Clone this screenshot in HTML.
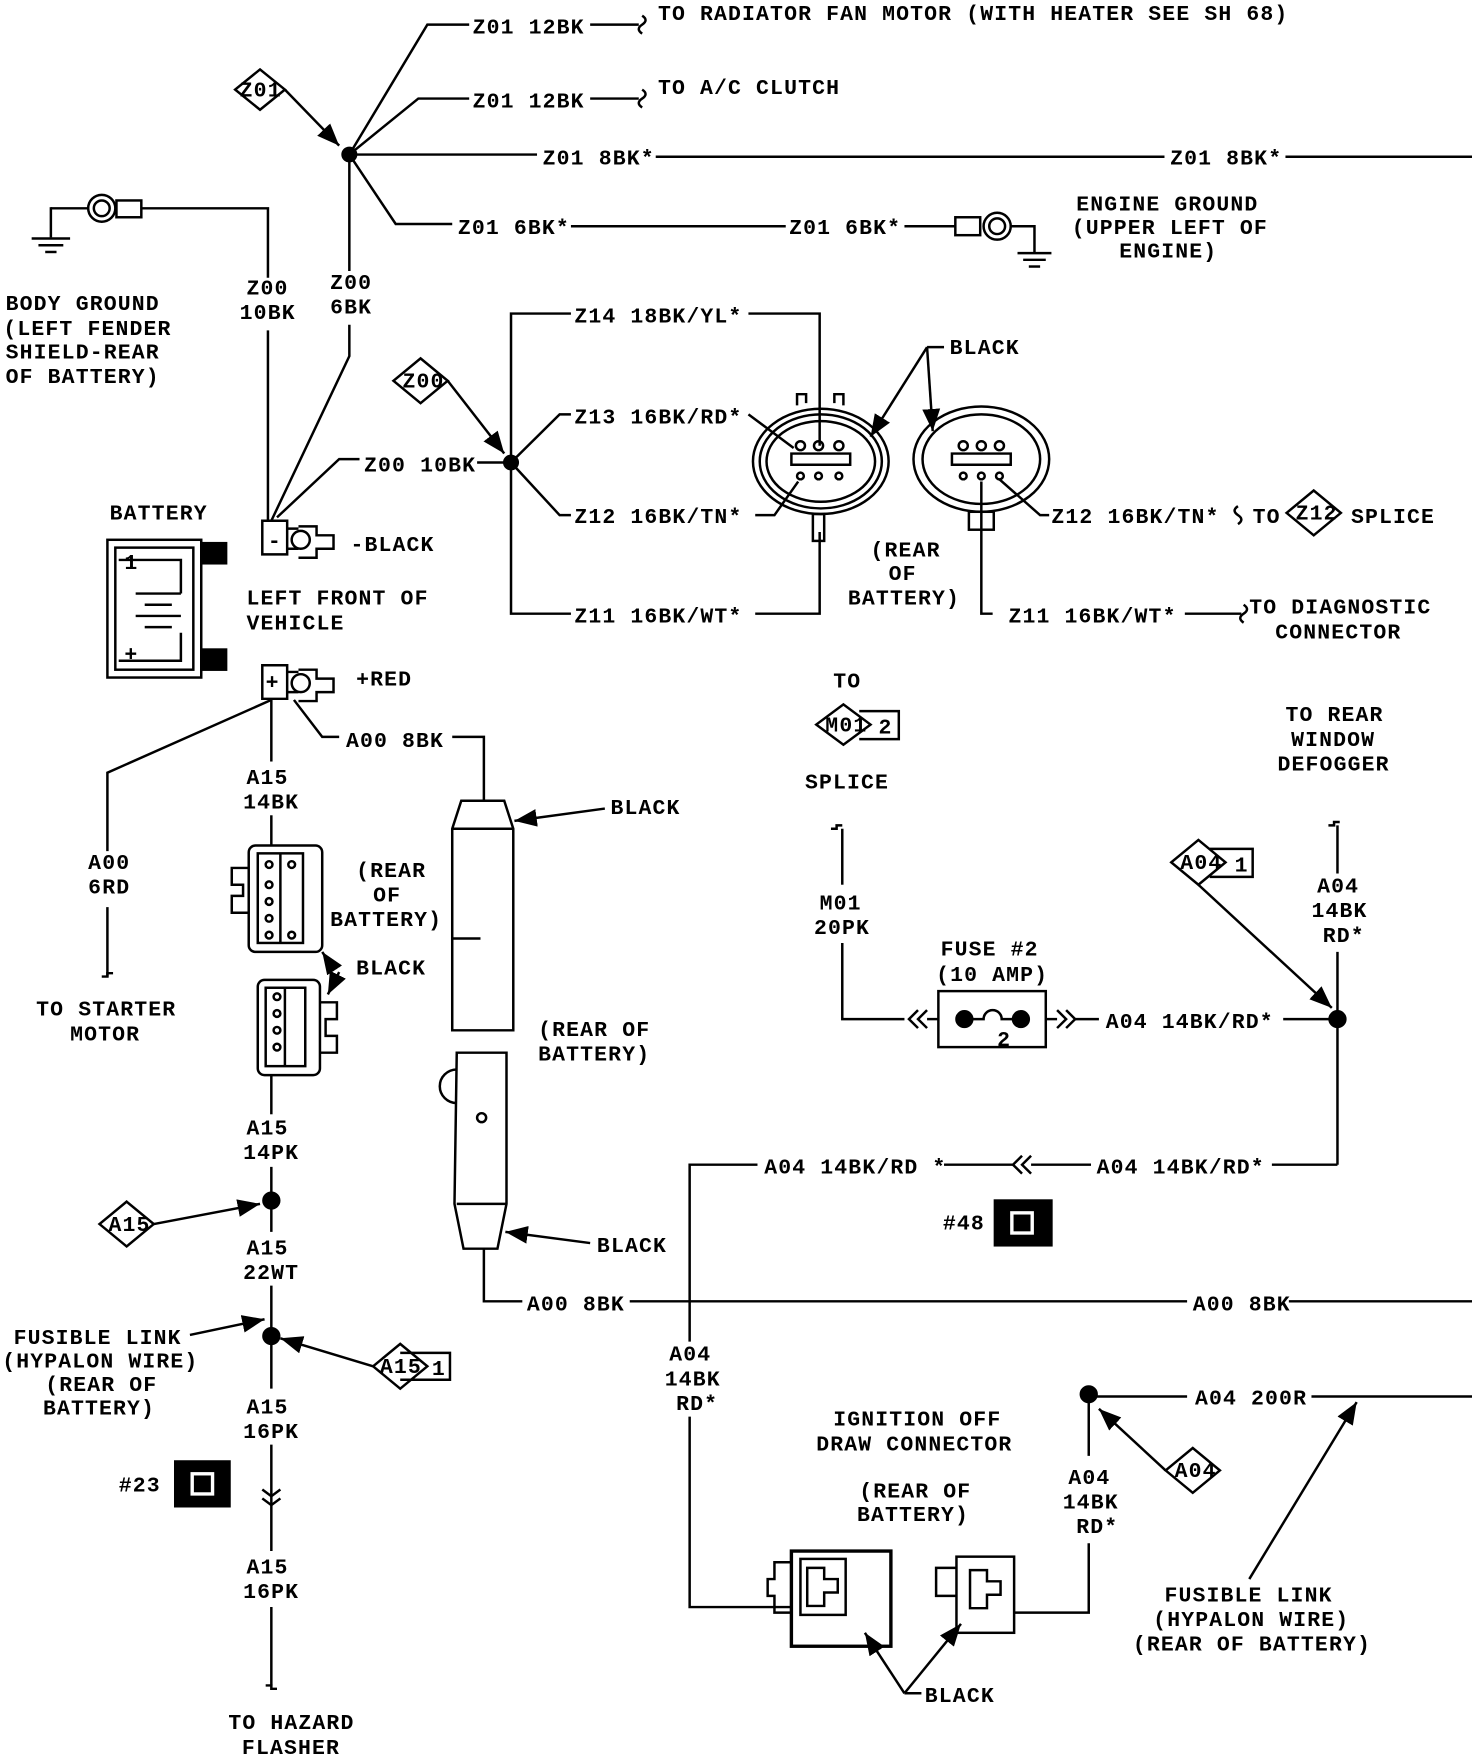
<!DOCTYPE html>
<html><head><meta charset="utf-8"><style>
html,body{margin:0;padding:0;background:#fff}
svg{display:block}
text{font-family:"Liberation Mono",monospace;font-size:19px;fill:#000;letter-spacing:1px;font-weight:bold}
</style></head><body>
<svg width="1472" height="1756" viewBox="0 0 1302 1568" preserveAspectRatio="none" xmlns="http://www.w3.org/2000/svg">
<defs><marker id="a" viewBox="0 0 10 10" refX="10" refY="5" markerWidth="9" markerHeight="9" orient="auto-start-reverse"><path d="M0,1 L10,5 L0,9 z" fill="#000"/></marker></defs>
<g stroke="#000" stroke-width="2.2" fill="none">
<circle cx="309" cy="138" r="6" fill="#000"/>
<polyline points="309,138 378,22 415,22"/><polyline points="522,22 565,22"/><path d="M568,14 q6,4 0,8 q-6,4 0,8"/>
<polyline points="309,138 370,88 415,88"/><polyline points="522,88 565,88"/><path d="M568,80 q6,4 0,8 q-6,4 0,8"/>
<line x1="309" y1="138" x2="475" y2="138"/><line x1="580" y1="140" x2="1030" y2="140"/><line x1="1137" y1="140" x2="1302" y2="140"/>
<polyline points="309,138 350,200 400,200"/><line x1="505" y1="202" x2="695" y2="202"/><line x1="800" y1="202" x2="845" y2="202"/>
<rect x="845" y="194" width="22" height="16"/><circle cx="882" cy="202" r="12"/><circle cx="882" cy="202" r="7"/>
<polyline points="894,202 915,202 915,225"/><line x1="900" y1="226" x2="930" y2="226"/><line x1="905" y1="232" x2="925" y2="232"/><line x1="910" y1="238" x2="920" y2="238"/>
<line x1="309" y1="138" x2="309" y2="242"/><polyline points="309,290 309,318 240,465"/>
<path d="M208,80 l22,-18 l22,18 l-22,18 z"/><line x1="252" y1="80" x2="300" y2="130" marker-end="url(#a)"/>
<polyline points="45,185 45,212"/><line x1="28" y1="213" x2="62" y2="213"/><line x1="34" y1="219" x2="56" y2="219"/><line x1="40" y1="225" x2="50" y2="225"/>
<line x1="45" y1="186" x2="78" y2="186"/><circle cx="90" cy="186" r="12"/><circle cx="90" cy="186" r="7"/><rect x="103" y="179" width="22" height="15"/>
<polyline points="125,186 237,186 237,248"/><line x1="237" y1="295" x2="237" y2="465"/>
<polyline points="245,462 300,410 318,410"/>
<path d="M348,340 l24,-20 l24,20 l-24,20 z"/><line x1="396" y1="340" x2="446" y2="405" marker-end="url(#a)"/>
<circle cx="452" cy="413" r="6" fill="#000"/><line x1="422" y1="413" x2="452" y2="413"/>
<polyline points="505,280 452,280 452,548 505,548"/>
<polyline points="452,413 495,370 505,370"/><polyline points="452,413 495,460 505,460"/>
<polyline points="662,280 725,280 725,398"/><line x1="662" y1="370" x2="702" y2="400"/><polyline points="668,460 685,460 706,430"/>
<polyline points="668,548 725,548 725,475"/>
<ellipse cx="726" cy="412" rx="60" ry="47"/><ellipse cx="726" cy="412" rx="54" ry="42"/><ellipse cx="726" cy="412" rx="48" ry="36"/>
<path d="M705,362 v-10 h8 v8 M738,360 v-8 h8 v10"/><rect x="719" y="459" width="10" height="24"/>
<path d="M700,405 h52 v10 h-52 z"/><circle cx="708" cy="398" r="4"/><circle cx="724" cy="398" r="4"/><circle cx="742" cy="398" r="4"/><circle cx="708" cy="425" r="3"/><circle cx="724" cy="425" r="3"/><circle cx="742" cy="425" r="3"/>
<ellipse cx="868" cy="410" rx="60" ry="47"/><ellipse cx="868" cy="410" rx="52" ry="40"/>
<path d="M842,405 h52 v10 h-52 z"/><circle cx="852" cy="398" r="4"/><circle cx="868" cy="398" r="4"/><circle cx="884" cy="398" r="4"/><circle cx="852" cy="425" r="3"/><circle cx="868" cy="425" r="3"/><circle cx="884" cy="425" r="3"/>
<rect x="857" y="457" width="22" height="16"/>
<line x1="820" y1="310" x2="770" y2="390" marker-end="url(#a)"/><line x1="820" y1="310" x2="825" y2="385" marker-end="url(#a)"/><line x1="820" y1="310" x2="835" y2="310"/>
<polyline points="884,428 920,460 928,460"/><path d="M1095,452 q-6,4 0,8 q6,4 0,8"/>
<path d="M1138,458 l24,-20 l24,20 l-24,20 z"/>
<polyline points="868,430 868,548 878,548"/><line x1="1048" y1="548" x2="1098" y2="548"/><path d="M1100,540 q6,4 0,8 q-6,4 0,8"/>
<rect x="95" y="482" width="83" height="123"/><rect x="102" y="489" width="69" height="109"/>
<rect x="178" y="485" width="22" height="18" fill="#000"/><rect x="178" y="580" width="22" height="18" fill="#000"/>
<polyline points="105,500 160,500 160,530"/><line x1="120" y1="530" x2="160" y2="530"/><line x1="128" y1="540" x2="152" y2="540"/><line x1="120" y1="550" x2="160" y2="550"/><line x1="128" y1="560" x2="152" y2="560"/><polyline points="160,565 160,590 105,590"/>
<path d="M232,465 h22 v30 h-22 z M254,472 h10 M254,490 h10 M264,470 h16 v8 h15 v12 h-15 v8 h-16"/><circle cx="266" cy="482" r="8"/>
<path d="M232,594 h22 v30 h-22 z M254,600 h10 M254,618 h10 M264,598 h16 v8 h15 v12 h-15 v8 h-16"/><circle cx="266" cy="610" r="8"/>
<polyline points="260,625 285,658 300,658"/><polyline points="400,658 428,658 428,715"/>
<path d="M408,715 h38 l8,25 v180 h-54 v-180 z"/><line x1="400" y1="740" x2="454" y2="740"/><line x1="400" y1="838" x2="425" y2="838"/>
<line x1="535" y1="722" x2="455" y2="733" marker-end="url(#a)"/>
<path d="M404,940 h44 v135 l-8,40 h-30 l-8,-40 z"/><line x1="404" y1="1075" x2="448" y2="1075"/><path d="M404,955 a10,10 0 0 0 0,30"/><circle cx="426" cy="998" r="4"/>
<line x1="522" y1="1110" x2="447" y2="1100" marker-end="url(#a)"/>
<polyline points="428,1115 428,1162 462,1162"/><line x1="557" y1="1162" x2="1050" y2="1162"/><line x1="1140" y1="1162" x2="1302" y2="1162"/>
<polyline points="240,625 95,690 95,760"/><line x1="95" y1="810" x2="95" y2="872"/><path d="M90,872 h5 v-3 h5"/>
<line x1="240" y1="625" x2="240" y2="680"/><line x1="240" y1="728" x2="240" y2="755"/>
<rect x="220" y="755" width="65" height="95" rx="6"/><rect x="228" y="762" width="40" height="80"/><line x1="248" y1="762" x2="248" y2="842"/>
<path d="M220,775 h-15 v15 h10 v10 h-10 v15 h15"/><circle cx="238" cy="772" r="3"/><circle cx="238" cy="790" r="3"/><circle cx="238" cy="805" r="3"/><circle cx="238" cy="820" r="3"/><circle cx="238" cy="835" r="3"/><circle cx="258" cy="772" r="3"/><circle cx="258" cy="835" r="3"/>
<line x1="295" y1="865" x2="285" y2="850" marker-end="url(#a)"/>
<rect x="228" y="875" width="55" height="85" rx="6"/><rect x="235" y="882" width="35" height="70"/><line x1="252" y1="882" x2="252" y2="952"/>
<path d="M283,895 h15 v15 h-10 v15 h10 v15 h-15"/><circle cx="245" cy="890" r="3"/><circle cx="245" cy="905" r="3"/><circle cx="245" cy="920" r="3"/><circle cx="245" cy="935" r="3"/>
<line x1="300" y1="868" x2="290" y2="888" marker-end="url(#a)"/>
<line x1="240" y1="960" x2="240" y2="995"/><line x1="240" y1="1042" x2="240" y2="1100"/>
<circle cx="240" cy="1072" r="7" fill="#000"/>
<path d="M88,1093 l24,-20 l24,20 l-24,20 z"/><line x1="136" y1="1093" x2="230" y2="1075" marker-end="url(#a)"/>
<line x1="240" y1="1148" x2="240" y2="1240"/><circle cx="240" cy="1193" r="7" fill="#000"/>
<line x1="168" y1="1192" x2="234" y2="1178" marker-end="url(#a)"/>
<path d="M330,1220 l24,-20 l24,20 l-24,20 z"/><polyline points="354,1208 398,1208 398,1232 354,1232"/>
<line x1="330" y1="1220" x2="248" y2="1195" marker-end="url(#a)"/>
<line x1="240" y1="1290" x2="240" y2="1385"/><path d="M232,1330 l8,6 l8,-6 M232,1338 l8,6 l8,-6"/>
<line x1="240" y1="1435" x2="240" y2="1505"/><path d="M235,1505 h5 v3 h5"/>
<rect x="155" y="1305" width="48" height="40" fill="#000"/><rect x="170" y="1316" width="18" height="18" stroke="#fff" stroke-width="3"/>
<path d="M722,647 l24,-18 l24,18 l-24,18 z"/><polyline points="760,635 795,635 795,660 760,660"/>
<path d="M735,740 h5 v-3 h5"/><line x1="745" y1="740" x2="745" y2="790"/><polyline points="745,842 745,910 800,910"/>
<path d="M812,902 l-8,8 l8,8 M820,902 l-8,8 l8,8"/><line x1="820" y1="910" x2="830" y2="910"/>
<rect x="830" y="885" width="95" height="50"/><circle cx="853" cy="910" r="7" fill="#000"/><circle cx="903" cy="910" r="7" fill="#000"/><path d="M860,910 h10 a8,8 0 0 1 16,0 h10"/>
<line x1="925" y1="910" x2="935" y2="910"/><path d="M935,902 l8,8 l-8,8 M943,902 l8,8 l-8,8"/><line x1="951" y1="910" x2="972" y2="910"/>
<line x1="1135" y1="910" x2="1183" y2="910"/><circle cx="1183" cy="910" r="7" fill="#000"/>
<path d="M1175,737 h5 v-3 h5"/><line x1="1183" y1="737" x2="1183" y2="780"/><line x1="1183" y1="850" x2="1183" y2="1040"/>
<path d="M1036,770 l24,-20 l24,20 l-24,20 z"/><polyline points="1070,758 1108,758 1108,783 1070,783"/>
<line x1="1060" y1="790" x2="1178" y2="900" marker-end="url(#a)"/>
<polyline points="1183,1040 1125,1040"/><line x1="965" y1="1040" x2="912" y2="1040"/><path d="M912,1032 l-8,8 l8,8 M904,1032 l-8,8 l8,8"/><line x1="896" y1="1040" x2="835" y2="1040"/>
<polyline points="670,1040 610,1040 610,1198"/><polyline points="610,1265 610,1435 700,1435"/>
<rect x="880" y="1072" width="50" height="40" fill="#000"/><rect x="895" y="1083" width="18" height="18" stroke="#fff" stroke-width="3"/>
<rect x="700" y="1385" width="88" height="85" stroke-width="3"/><path d="M700,1395 h-15 v15 h-6 v15 h6 v15 h15"/><rect x="708" y="1392" width="40" height="50"/><path d="M714,1400 h15 v10 h12 v12 h-12 v12 h-15 z"/>
<rect x="846" y="1390" width="51" height="68"/><path d="M846,1400 h-18 v25 h18"/><path d="M858,1402 h15 v10 h12 v12 h-12 v12 h-15 z"/>
<polyline points="897,1440 963,1440 963,1378"/><line x1="963" y1="1300" x2="963" y2="1245"/><circle cx="963" cy="1245" r="7" fill="#000"/>
<line x1="963" y1="1247" x2="1050" y2="1247"/><line x1="1160" y1="1247" x2="1302" y2="1247"/>
<path d="M1031,1313 l24,-20 l24,20 l-24,20 z"/><line x1="1031" y1="1313" x2="972" y2="1258" marker-end="url(#a)"/>
<line x1="1105" y1="1410" x2="1200" y2="1252" marker-end="url(#a)"/>
<line x1="815" y1="1512" x2="800" y2="1512"/><line x1="800" y1="1512" x2="765" y2="1458" marker-end="url(#a)"/><line x1="800" y1="1512" x2="850" y2="1450" marker-end="url(#a)"/>
</g>
<g>
<text x="418" y="30">Z01 12BK</text><text x="582" y="18">TO RADIATOR FAN MOTOR (WITH HEATER SEE SH 68)</text>
<text x="418" y="96">Z01 12BK</text><text x="582" y="84">TO A/C CLUTCH</text>
<text x="480" y="147">Z01 8BK*</text><text x="1035" y="147">Z01 8BK*</text>
<text x="405" y="209">Z01 6BK*</text><text x="698" y="209">Z01 6BK*</text>
<text x="952" y="188">ENGINE GROUND</text><text x="948" y="209">(UPPER LEFT OF</text><text x="990" y="230">ENGINE)</text>
<text x="212" y="86" font-size="15">Z01</text>
<text x="218" y="263">Z00</text><text x="212" y="285">10BK</text>
<text x="292" y="258">Z00</text><text x="292" y="280">6BK</text>
<text x="5" y="277">BODY GROUND</text><text x="3" y="299">(LEFT FENDER</text><text x="5" y="320">SHIELD-REAR</text><text x="5" y="342">OF BATTERY)</text>
<text x="356" y="346" font-size="15">Z00</text>
<text x="322" y="421">Z00 10BK</text>
<text x="508" y="288">Z14 18BK/YL*</text><text x="508" y="378">Z13 16BK/RD*</text><text x="508" y="467">Z12 16BK/TN*</text><text x="508" y="556">Z11 16BK/WT*</text>
<text x="840" y="316">BLACK</text>
<text x="770" y="497">(REAR</text><text x="786" y="518">OF</text><text x="750" y="540">BATTERY)</text>
<text x="930" y="467">Z12 16BK/TN*</text><text x="1108" y="467">TO</text><text x="1146" y="464" font-size="15">Z12</text><text x="1195" y="467">SPLICE</text>
<text x="892" y="556">Z11 16BK/WT*</text><text x="1105" y="548">TO DIAGNOSTIC</text><text x="1128" y="570">CONNECTOR</text>
<text x="97" y="464">BATTERY</text><text x="310" y="492">-BLACK</text><text x="218" y="540">LEFT FRONT OF</text><text x="218" y="562">VEHICLE</text>
<text x="315" y="612">+RED</text><text x="237" y="489" font-size="12">-</text><text x="235" y="615" font-size="16">+</text>
<text x="110" y="508" font-size="16">1</text><text x="110" y="590" font-size="18">+</text>
<text x="306" y="667">A00 8BK</text><text x="540" y="727">BLACK</text>
<text x="78" y="776">A00</text><text x="78" y="798">6RD</text><text x="32" y="907">TO STARTER</text><text x="62" y="929">MOTOR</text>
<text x="218" y="700">A15</text><text x="215" y="722">14BK</text>
<text x="315" y="783">(REAR</text><text x="330" y="805">OF</text><text x="292" y="827">BATTERY)</text>
<text x="315" y="870">BLACK</text>
<text x="476" y="925">(REAR OF</text><text x="476" y="947">BATTERY)</text>
<text x="528" y="1118">BLACK</text>
<text x="466" y="1170">A00 8BK</text><text x="1055" y="1170">A00 8BK</text>
<text x="218" y="1013">A15</text><text x="215" y="1035">14PK</text>
<text x="96" y="1099" font-size="15">A15</text>
<text x="218" y="1120">A15</text><text x="215" y="1142">22WT</text>
<text x="12" y="1200">FUSIBLE LINK</text><text x="2" y="1221">(HYPALON WIRE)</text><text x="40" y="1242">(REAR OF</text><text x="38" y="1263">BATTERY)</text>
<text x="336" y="1226" font-size="15">A15</text><text x="382" y="1228" font-size="16">1</text>
<text x="218" y="1262">A15</text><text x="215" y="1284">16PK</text>
<text x="218" y="1405">A15</text><text x="215" y="1427">16PK</text>
<text x="105" y="1332">#23</text>
<text x="202" y="1544">TO HAZARD</text><text x="214" y="1566">FLASHER</text>
<text x="737" y="614">TO</text><text x="730" y="653" font-size="15">M01</text><text x="777" y="655" font-size="16">2</text><text x="712" y="704">SPLICE</text>
<text x="725" y="812">M01</text><text x="720" y="834">20PK</text>
<text x="832" y="853">FUSE #2</text><text x="828" y="876">(10 AMP)</text><text x="882" y="934" font-size="16">2</text>
<text x="978" y="918">A04 14BK/RD*</text>
<text x="1137" y="644">TO REAR</text><text x="1142" y="666">WINDOW</text><text x="1130" y="688">DEFOGGER</text>
<text x="1165" y="797">A04</text><text x="1160" y="819">14BK</text><text x="1170" y="841">RD*</text>
<text x="1044" y="776" font-size="15">A04</text><text x="1092" y="778" font-size="16">1</text>
<text x="970" y="1048">A04 14BK/RD*</text><text x="676" y="1048">A04 14BK/RD *</text>
<text x="834" y="1098">#48</text>
<text x="592" y="1215">A04</text><text x="588" y="1237">14BK</text><text x="598" y="1259">RD*</text>
<text x="737" y="1273">IGNITION OFF</text><text x="722" y="1295">DRAW CONNECTOR</text>
<text x="760" y="1337">(REAR OF</text><text x="758" y="1358">BATTERY)</text>
<text x="945" y="1325">A04</text><text x="940" y="1347">14BK</text><text x="952" y="1369">RD*</text>
<text x="1057" y="1254">A04 200R</text><text x="1039" y="1319" font-size="15">A04</text>
<text x="1030" y="1430">FUSIBLE LINK</text><text x="1020" y="1452">(HYPALON WIRE)</text><text x="1002" y="1474">(REAR OF BATTERY)</text>
<text x="818" y="1520">BLACK</text>
</g>
</svg>
</body></html>
